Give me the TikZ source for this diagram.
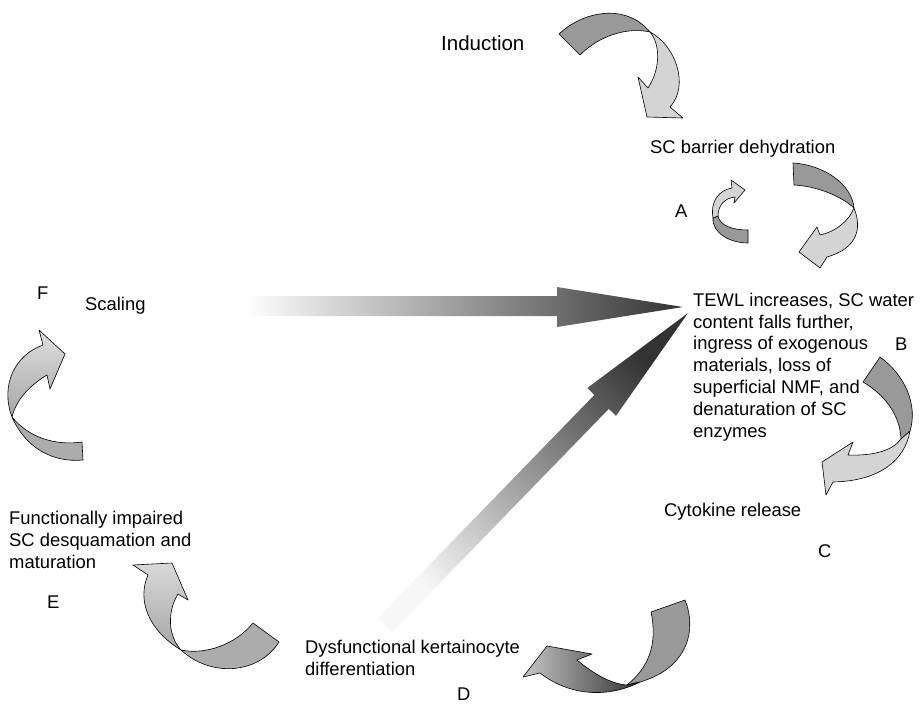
\documentclass[tikz,border=0pt]{standalone}
\usepackage{fontspec}
\setmainfont{Liberation Sans}
\definecolor{rlight}{gray}{0.83}
\definecolor{rdark}{gray}{0.6}
\definecolor{tipdark}{gray}{0.2}
\begin{document}
\begin{tikzpicture}[x=1pt,y=-1pt,
  lbl/.style={inner sep=0pt, anchor=base west, font=\fontsize{18.4}{21.8}\selectfont},
  biglbl/.style={lbl, font=\fontsize{20.5}{24}\selectfont},
  ribbon/.style={draw=black, line width=0.6pt, line join=round},
  darkband/.style={ribbon, fill=rdark},
  lightband/.style={ribbon, fill=rlight}]
\useasboundingbox (0,0) rectangle (921,704);

% ---------- big gradient arrows ----------
\shade[left color=white, right color=tipdark]
  (245,296) -- (557,296) -- (557,287) -- (683,307) -- (557,327) -- (557,316) -- (245,316) -- cycle;
\shade[top color=tipdark, bottom color=gray!6, shading angle=-45]
  (377.8,618.0) -- (594.4,394.9) -- (587.3,388.0) -- (688,313) -- (616.0,415.8) -- (608.8,408.9) -- (392.2,632.0) -- cycle;

% ---------- text ----------
\node[biglbl] (induction) at (441,50) {Induction};
\node[lbl] (scb) at (650,153) {SC barrier dehydration};
\node[lbl] (A) at (675,217) {A};
\node[lbl, align=left] (tewl) at (693,437) {TEWL increases, SC water\\content falls further,\\ingress of exogenous\\materials, loss of\\superficial NMF, and\\denaturation of SC\\enzymes};
\node[lbl] (B) at (895,350) {B};
\node[lbl] (F) at (37,299) {F};
\node[lbl] (scaling) at (85,310) {Scaling};
\node[lbl] (cyto) at (664,516) {Cytokine release};
\node[lbl] (C) at (818,557) {C};
\node[lbl, align=left] (func) at (9,568) {Functionally impaired\\SC desquamation and\\maturation};
\node[lbl] (E) at (47,608) {E};
\node[lbl, align=left] (dys) at (305,675) {Dysfunctional kertainocyte\\differentiation};
\node[lbl] (D) at (457,700) {D};

% ---------- Induction -> SC barrier ----------
\path[darkband] (559,34) .. controls (582,12) and (625,2) .. (650,32)
  .. controls (628,27) and (600,35) .. (580,55) -- cycle;
\path[lightband] (650,32) .. controls (675,45) and (690,85) .. (670,107)
  -- (683,118) -- (647,117) -- (638,77) -- (648,88)
  .. controls (660,70) and (661,45) .. (650,32) -- cycle;

% ---------- SC barrier -> TEWL ----------
\path[darkband] (793,163) .. controls (825,165) and (852,185) .. (854,208)
  .. controls (840,195) and (815,186) .. (794,185) -- cycle;
\path[lightband] (854,208) .. controls (862,228) and (858,248) .. (827,257)
  -- (820,268) -- (799,252) -- (817,227) -- (820,235)
  .. controls (835,232) and (849,221) .. (854,208) -- cycle;

% ---------- A loop ----------
\path[darkband] (713,218) .. controls (712,233) and (730,243) .. (748,243)
  -- (748,230) .. controls (733,230) and (720,226) .. (718,216) -- cycle;
\path[lightband] (713,218) .. controls (710,200) and (720,190) .. (732,188)
  -- (731,180) -- (745,190) -- (734,203) -- (735,197)
  .. controls (725,198) and (718,205) .. (718,216) -- cycle;

% ---------- B ----------
\path[darkband] (880,357) .. controls (905,375) and (918,405) .. (910,431)
  -- (901,439) .. controls (900,415) and (885,395) .. (863,382) -- cycle;
\path[lightband] (910,431) .. controls (905,460) and (880,481) .. (833,482)
  -- (826,495) -- (822,462) -- (853,442) -- (848,455)
  .. controls (875,456) and (893,450) .. (901,439) -- cycle;

% ---------- C -> D ----------
\path[darkband] (651,612) -- (685,600) .. controls (697,630) and (688,668) .. (640,682)
  -- (627,685) .. controls (648,668) and (658,645) .. (651,612) -- cycle;
\shadedraw[ribbon, left color=gray!45, right color=black!80]
  (640,682) .. controls (615,695) and (575,700) .. (540,673)
  -- (523,677) -- (547,646) -- (592,654) -- (577,660)
  .. controls (595,675) and (612,684) .. (627,685) -- cycle;

% ---------- D -> E ----------
\path[ribbon, fill=gray!65] (253,623) .. controls (235,645) and (205,655) .. (181,650)
  .. controls (210,677) and (258,675) .. (279,642) -- cycle;
\shadedraw[ribbon, top color=gray!30, bottom color=gray!70]
  (181,650) .. controls (148,630) and (137,600) .. (148,575)
  -- (133,565) -- (172,563) -- (188,600) -- (178,594)
  .. controls (167,612) and (168,636) .. (181,650) -- cycle;

% ---------- E -> F ----------
\path[ribbon, fill=gray!65] (82,442) .. controls (55,446) and (28,437) .. (12,417)
  .. controls (25,447) and (52,463) .. (83,460) -- cycle;
\shadedraw[ribbon, top color=gray!25, bottom color=gray!70]
  (12,417) .. controls (0,385) and (15,355) .. (43,345)
  -- (39,330) -- (65,354) -- (50,389) -- (47,375)
  .. controls (30,385) and (16,400) .. (12,417) -- cycle;
\end{tikzpicture}
\end{document}
